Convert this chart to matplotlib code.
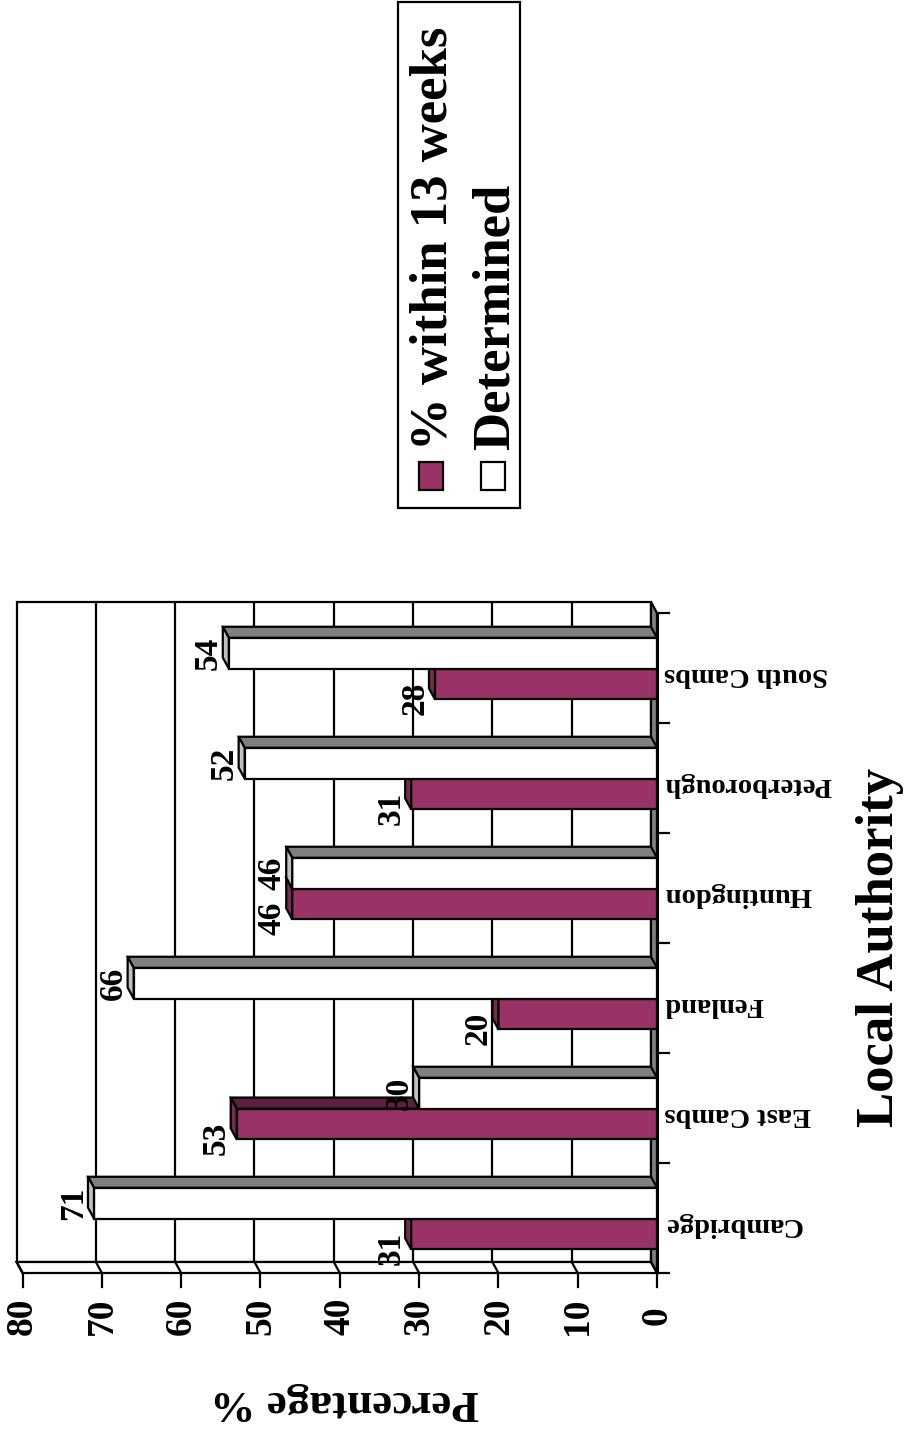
import matplotlib
matplotlib.use("Agg")
import matplotlib.pyplot as plt
from matplotlib.patches import Polygon, Rectangle

# ---- data -------------------------------------------------------------
authorities = ["Cambridge", "East Cambs", "Fenland", "Huntingdon",
               "Peterborough", "South Cambs"]
within_13_weeks = [31, 53, 20, 46, 31, 28]
determined = [71, 30, 66, 46, 52, 54]
value_ticks = [0, 10, 20, 30, 40, 50, 60, 70, 80]
series_names = ["% within 13 weeks", "Determined"]
value_axis_title = "Percentage %"
category_axis_title = "Local Authority"

# ---- page geometry (the whole chart is laid out turned on its side) ---
W, H = 907, 1430
X0 = 657.0      # pixel column of value 0 on the front plane
PXV = 7.93      # pixels per percentage point
Y0 = 1218.0     # pixel row of the first category centre
PXC = 110.0     # pixels per category slot

FONT = "Liberation Serif"
PURPLE, PURPLE_TOP, PURPLE_END = "#993366", "#5c1f3d", "#7a2952"
WHITE, WHITE_TOP, WHITE_END = "#ffffff", "#808080", "#c0c0c0"
FLOOR = "#808080"
LW = 1.6

fig = plt.figure(figsize=(W / 100, H / 100), dpi=100)
ax = fig.add_axes([0, 0, 1, 1])
ax.set_axis_off()
ax.set_xlim(X0 / PXV, (X0 - W) / PXV)
ax.set_ylim((Y0 - H) / PXC, Y0 / PXC)


def dv(p):
    """pixels -> value units"""
    return p / PXV


def dc(p):
    """pixels -> category units"""
    return p / PXC


def at(col, row):
    """pixel position -> data position"""
    return (X0 - col) / PXV, (Y0 - row) / PXC


DV, DC = dv(6), dc(11)            # depth of the 3-D box
VMAX = value_ticks[-1]
C_LO, C_HI = -0.5, len(authorities) - 0.5
BAR = 0.28
SHIFT = -0.005

edge = dict(edgecolor="black", linewidth=LW, joinstyle="miter")

# back wall
ax.add_patch(Rectangle((DV, C_LO + DC), VMAX, C_HI - C_LO,
                       facecolor="white", zorder=1, **edge))
for v in value_ticks[1:-1]:
    ax.plot([v + DV, v + DV], [C_LO + DC, C_HI + DC], color="black",
            lw=LW, zorder=1.5, solid_capstyle="butt")

# floor strip behind the category axis
ax.add_patch(Polygon([(0, C_LO), (0, C_HI), (DV, C_HI + DC), (DV, C_LO + DC)],
                     closed=True, facecolor=FLOOR, zorder=2, **edge))

# side wall under the value axis
ax.add_patch(Polygon([(0, C_LO), (VMAX, C_LO), (VMAX + DV, C_LO + DC),
                      (DV, C_LO + DC)], closed=True, facecolor="white",
                     zorder=2, **edge))
for v in value_ticks:
    ax.plot([v + DV, v], [C_LO + DC, C_LO], color="black", lw=LW, zorder=2.5)
    ax.plot([v, v], [C_LO, C_LO - dc(14)], color="black", lw=LW, zorder=2.5)
    ax.text(v, C_LO - dc(43), str(v), rotation=90, ha="center", va="center",
            fontsize=27, fontweight="bold", family=FONT)

# category axis line and ticks
ax.plot([0, 0], [C_LO, C_HI], color="black", lw=LW + 0.6, zorder=6,
        solid_capstyle="butt")
for k in range(len(authorities) + 1):
    b = C_LO + k
    ax.plot([0, -dv(12)], [b, b], color="black", lw=LW, zorder=6)


def bar3d(v, y0, y1, front, top, end, z):
    ax.add_patch(Rectangle((0, y0), v, y1 - y0, facecolor=front, zorder=z,
                           **edge))
    ax.add_patch(Polygon([(0, y1), (v, y1), (v + DV, y1 + DC), (DV, y1 + DC)],
                         closed=True, facecolor=top, zorder=z, **edge))
    ax.add_patch(Polygon([(v, y0), (v, y1), (v + DV, y1 + DC),
                          (v + DV, y0 + DC)], closed=True, facecolor=end,
                         zorder=z, **edge))


LABEL_FS = 24
descent = 0.217 * LABEL_FS * 100 / 72
for i, (p, d) in enumerate(zip(within_13_weeks, determined)):
    c = i + SHIFT
    bar3d(p, c - BAR, c, PURPLE, PURPLE_TOP, PURPLE_END, 3)
    ax.text(p + DV + dv(6 - descent), c - BAR / 2 - dc(14), str(p),
            rotation=90, ha="right", va="center", fontsize=LABEL_FS,
            fontweight="bold", family=FONT, zorder=3.5)
    bar3d(d, c, c + BAR, WHITE, WHITE_TOP, WHITE_END, 4)
    ax.text(d + DV + dv(6 - descent), c + BAR / 2, str(d),
            rotation=90, ha="right", va="center", fontsize=LABEL_FS,
            fontweight="bold", family=FONT, zorder=5)
    ax.text(-dv(7), i + dc(-6), authorities[i], rotation=180, ha="left",
            va="center", fontsize=20.5, fontweight="bold", family=FONT)

# axis titles
ax.text(*at(880, 947), category_axis_title, rotation=90, ha="center",
        va="center", fontsize=38, fontweight="bold", family=FONT)
ax.text(*at(345, 1402), value_axis_title, rotation=180, ha="center",
        va="center", fontsize=32.5, fontweight="bold", family=FONT)

# legend
lx0, ly0 = at(398, 508)
lx1, ly1 = at(520, 2)
ax.add_patch(Polygon([(lx0, ly0), (lx1, ly0), (lx1, ly1), (lx0, ly1)],
                     closed=True, facecolor="white", edgecolor="black",
                     linewidth=LW, zorder=7))
for name, colour, col in zip(series_names, [PURPLE, WHITE], [431, 493]):
    mx0, my0 = at(col - 12, 490)
    mx1, my1 = at(col + 12, 462)
    ax.add_patch(Polygon([(mx0, my0), (mx1, my0), (mx1, my1), (mx0, my1)],
                         closed=True, facecolor=colour, edgecolor="black",
                         linewidth=LW, zorder=8))
    ax.text(*at(col + 3, 450), name, rotation=90, ha="center", va="bottom",
            fontsize=38, fontweight="bold", family=FONT, zorder=8)

fig.savefig("out.png", dpi=100, facecolor="white")
